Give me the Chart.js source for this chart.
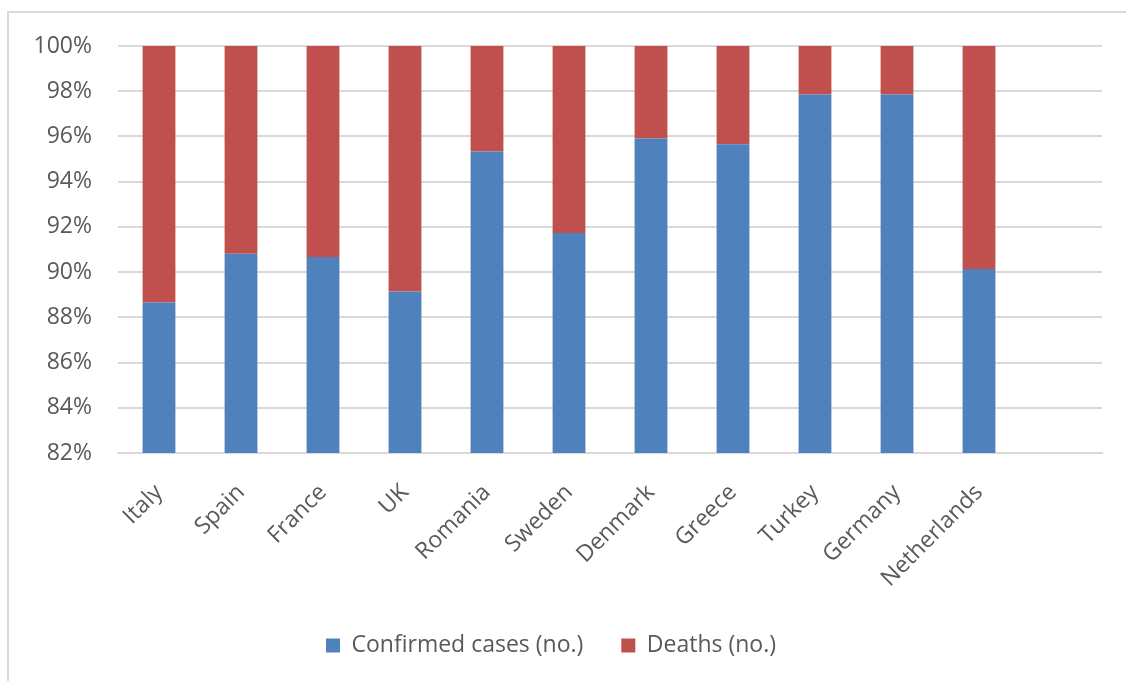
<!DOCTYPE html>
<html>
<head>
<meta charset="utf-8">
<script src="https://cdn.jsdelivr.net/npm/chart.js@4.4.1/dist/chart.umd.min.js"></script>
<style>
  html, body { margin: 0; padding: 0; background: #ffffff; }
  #wrap { position: relative; width: 1126px; height: 681px; overflow: hidden; }
  #frame { position: absolute; left: 7px; top: 11px; width: 1200px; height: 800px;
           border-top: 2px solid #d9d9d9; border-left: 2px solid #d9d9d9; box-sizing: border-box; }
  canvas { position: absolute; left: 0; top: 0; }
</style>
</head>
<body>
<div id="wrap">
  <div id="frame"></div>
  <canvas id="chart" width="1126" height="681"></canvas>
</div>
<script>
// Countries (the trailing blank slot keeps the empty space at the right of the axis)
const countries = ['Italy', 'Spain', 'France', 'UK', 'Romania', 'Sweden', 'Denmark',
                   'Greece', 'Turkey', 'Germany', 'Netherlands', ''];

// Share of confirmed cases and deaths, in percent of the total
const confirmedShare = [88.66, 90.81, 90.67, 89.14, 95.33, 91.73, 95.91, 95.65, 97.85, 97.85, 90.14, null];
const deathsShare    = [11.34,  9.19,  9.33, 10.86,  4.67,  8.27,  4.09,  4.35,  2.15,  2.15,  9.86, null];

// Value axis range and step
const axisMin = 82;
const axisMax = 100;
const axisStep = 2;

const textColor = '#595959';
const gridColor = '#d9d9d9';
const fontFamily = "'Open Sans', 'Noto Sans', sans-serif";

new Chart(document.getElementById('chart'), {
  type: 'bar',
  data: {
    labels: countries,
    datasets: [
      { label: 'Confirmed cases (no.)', data: confirmedShare, backgroundColor: '#4f81bd', stack: 's' },
      { label: 'Deaths (no.)', data: deathsShare, backgroundColor: '#c0504d', stack: 's' }
    ]
  },
  options: {
    responsive: false,
    animation: false,
    devicePixelRatio: 1,
    layout: { padding: { top: 46, right: 24, left: 0, bottom: 14 } },
    datasets: { bar: { categoryPercentage: 1.0, barPercentage: 0.4 } },
    plugins: {
      tooltip: { enabled: false },
      legend: {
        position: 'bottom',
        labels: {
          boxWidth: 14,
          boxHeight: 14,
          padding: 38,
          color: textColor,
          font: { family: fontFamily, size: 23 }
        }
      }
    },
    scales: {
      x: {
        stacked: true,
        grid: { display: false, drawTicks: false },
        border: { display: true, color: gridColor, width: 2 },
        ticks: {
          color: textColor,
          font: { family: fontFamily, size: 23 },
          maxRotation: 45,
          minRotation: 45,
          autoSkip: false,
          padding: 26
        },
        afterFit: (scale) => { scale.height = 143; }
      },
      y: {
        stacked: true,
        min: axisMin,
        max: axisMax,
        grid: { color: gridColor, lineWidth: 2, drawTicks: false },
        border: { display: false },
        ticks: {
          stepSize: axisStep,
          padding: 26,
          color: textColor,
          font: { family: fontFamily, size: 23 },
          callback: (v) => v + '%'
        },
        afterFit: (scale) => { scale.width = 118; }
      }
    }
  }
});
</script>
</body>
</html>
